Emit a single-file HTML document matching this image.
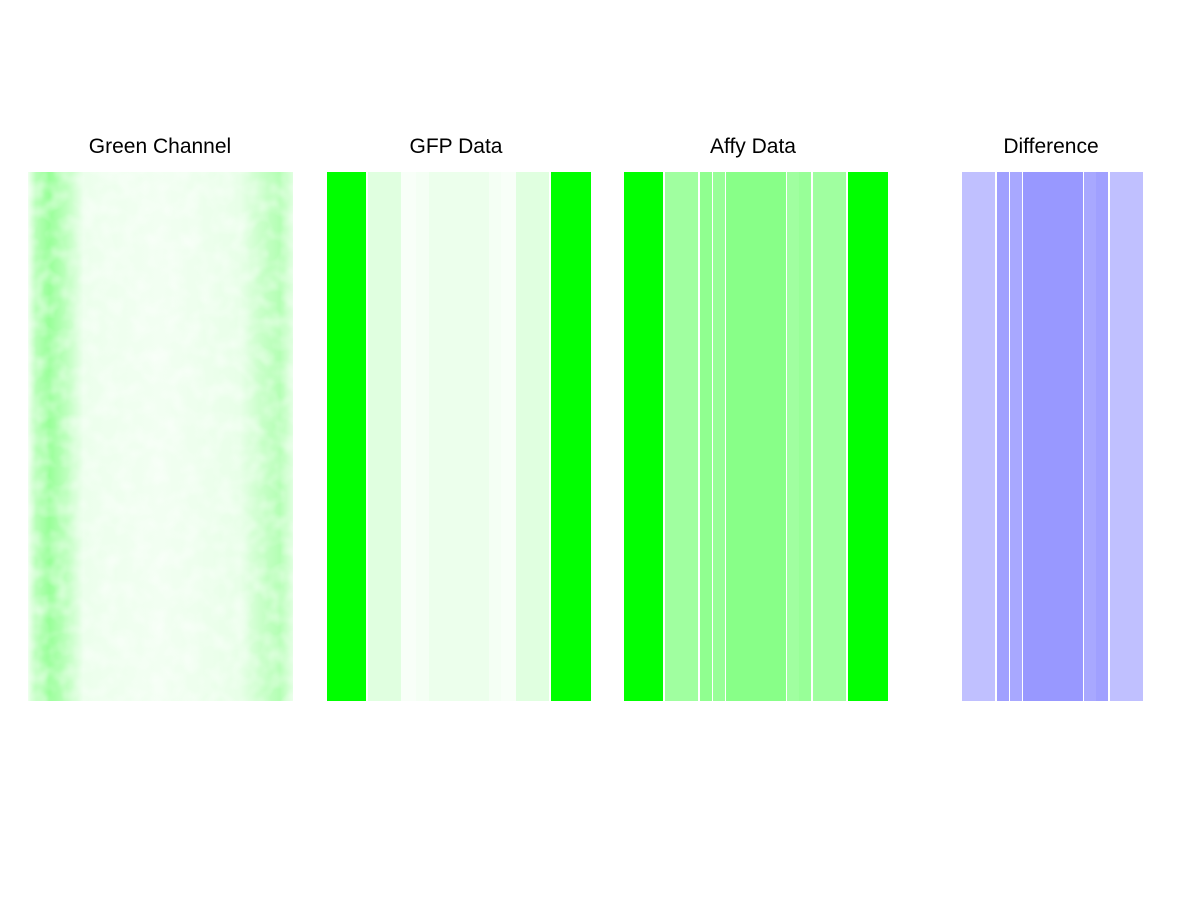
<!DOCTYPE html>
<html><head><style>
body{margin:0;background:#fff;width:1200px;height:900px;overflow:hidden;font-family:"Liberation Sans",sans-serif}
.t{position:absolute;top:135px;font-size:21px;width:300px;text-align:center;color:#000}
</style></head><body>
<div class="t" style="left:10px">Green Channel</div>
<div class="t" style="left:306px">GFP Data</div>
<div class="t" style="left:603px">Affy Data</div>
<div class="t" style="left:901px">Difference</div>
<svg width="1200" height="900" style="position:absolute;left:0;top:0">
<defs>
<linearGradient id="g" x1="0" x2="1">
<stop offset="0" stop-color="#f0fff0"/>
<stop offset="0.03" stop-color="#b8ffb8"/>
<stop offset="0.08" stop-color="#98ff98"/>
<stop offset="0.15" stop-color="#c0ffc0"/>
<stop offset="0.21" stop-color="#ecffec"/>
<stop offset="0.5" stop-color="#f2fff2"/>
<stop offset="0.8" stop-color="#e8ffe8"/>
<stop offset="0.88" stop-color="#c8ffc8"/>
<stop offset="0.95" stop-color="#b4ffb4"/>
<stop offset="1" stop-color="#e0ffe0"/>
</linearGradient>
<filter id="n"><feTurbulence type="fractalNoise" baseFrequency="0.06" numOctaves="2" seed="3"/><feColorMatrix values="0 0 0 0 1  0 0 0 0 1  0 0 0 0 1  0 0 0 -1.6 1.0"/><feComposite in2="SourceGraphic" operator="in"/></filter>
</defs>
<rect x="28" y="172" width="265" height="529" fill="url(#g)"/>
<rect x="28" y="172" width="265" height="529" fill="#fff" filter="url(#n)" opacity="0.6"/>
<g>
<rect x="327" y="172" width="39" height="529" fill="#00ff00"/>
<rect x="368" y="172" width="33" height="529" fill="#e0ffe0"/>
<rect x="401" y="172" width="15" height="529" fill="#f8fff8"/>
<rect x="416" y="172" width="13" height="529" fill="#f4fff4"/>
<rect x="429" y="172" width="60" height="529" fill="#ecffec"/>
<rect x="489" y="172" width="12" height="529" fill="#f4fff4"/>
<rect x="501" y="172" width="15" height="529" fill="#f8fff8"/>
<rect x="516" y="172" width="33" height="529" fill="#e0ffe0"/>
<rect x="551" y="172" width="40" height="529" fill="#00ff00"/>
</g>
<g>
<rect x="624" y="172" width="39" height="529" fill="#00ff00"/>
<rect x="665" y="172" width="33" height="529" fill="#a0ffa0"/>
<rect x="700" y="172" width="12" height="529" fill="#90ff90"/>
<rect x="713" y="172" width="12" height="529" fill="#98ff98"/>
<rect x="726" y="172" width="60" height="529" fill="#88ff88"/>
<rect x="787" y="172" width="12" height="529" fill="#a0ffa0"/>
<rect x="799" y="172" width="12" height="529" fill="#98ff98"/>
<rect x="813" y="172" width="33" height="529" fill="#a0ffa0"/>
<rect x="848" y="172" width="40" height="529" fill="#00ff00"/>
</g>
<g>
<rect x="962" y="172" width="33" height="529" fill="#c0c0ff"/>
<rect x="997" y="172" width="12" height="529" fill="#a0a0ff"/>
<rect x="1010" y="172" width="12" height="529" fill="#a8a8ff"/>
<rect x="1023" y="172" width="60" height="529" fill="#9898ff"/>
<rect x="1084" y="172" width="12" height="529" fill="#a8a8ff"/>
<rect x="1096" y="172" width="12" height="529" fill="#a0a0ff"/>
<rect x="1110" y="172" width="33" height="529" fill="#c0c0ff"/>
</g>
</svg>
</body></html>
